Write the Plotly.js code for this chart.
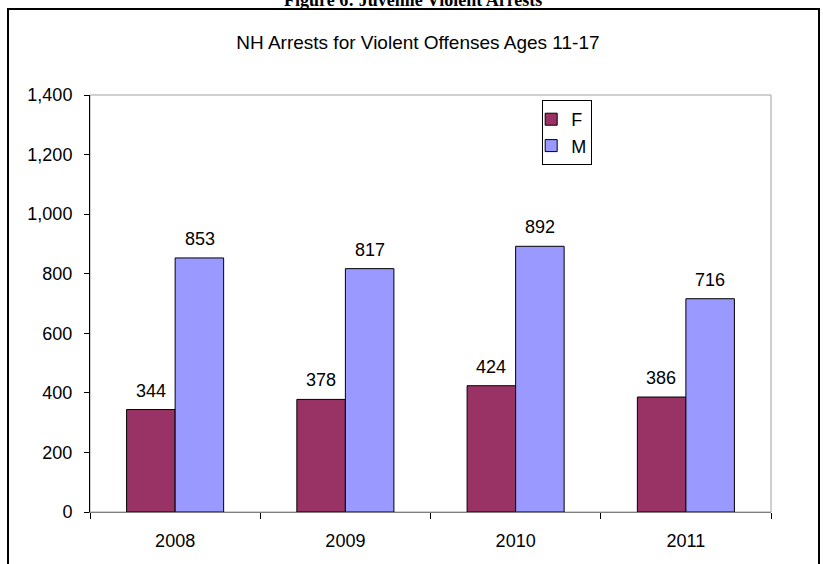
<!DOCTYPE html>
<html>
<head>
<meta charset="utf-8">
<script src="https://cdn.plot.ly/plotly-3.0.1.min.js"></script>
<style>
html,body{margin:0;padding:0;background:#fff;}
#chart{width:823px;height:564px;}
</style>
</head>
<body>
<div id="chart"></div>
<script>
const years = ['2008', '2009', '2010', '2011'];
const femaleArrests = [344, 378, 424, 386];
const maleArrests = [853, 817, 892, 716];
const yTickVals = [0, 200, 400, 600, 800, 1000, 1200, 1400];

const fnt = 'Arial, "Liberation Sans", sans-serif';

const traces = [
  {type: 'bar', name: 'F', x: years, y: femaleArrests,
   marker: {color: '#993366', line: {color: '#000000', width: 1}}, hoverinfo: 'none'},
  {type: 'bar', name: 'M', x: years, y: maleArrests,
   marker: {color: '#9999FF', line: {color: '#000000', width: 1}}, hoverinfo: 'none'}
];

const annotations = [];
years.forEach((yr, i) => {
  annotations.push({x: i, y: femaleArrests[i], text: String(femaleArrests[i]), xref: 'x', yref: 'y',
    showarrow: false, xshift: -24.5, yshift: 7, yanchor: 'bottom', font: {family: fnt, size: 18, color: '#000'}});
  annotations.push({x: i, y: maleArrests[i], text: String(maleArrests[i]), xref: 'x', yref: 'y',
    showarrow: false, xshift: 24.5, yshift: 7, yanchor: 'bottom', font: {family: fnt, size: 18, color: '#000'}});
});
annotations.push({text: '<b>Figure 6: Juvenile Violent Arrests</b>', xref: 'paper', yref: 'paper',
  x: 0.475, y: 1.2062, yanchor: 'middle', yshift: 9, showarrow: false,
  font: {family: '"Liberation Serif", "Times New Roman", serif', size: 18, color: '#000'}});

const layout = {
  width: 823, height: 564,
  margin: {l: 90, r: 52, t: 95, b: 52},
  paper_bgcolor: '#ffffff', plot_bgcolor: '#ffffff',
  title: {text: 'NH Arrests for Violent Offenses Ages 11-17', x: 0.4815, xref: 'paper', xanchor: 'center', y: 0.9255, yanchor: 'middle',
    font: {family: fnt, size: 19, color: '#000'}},
  barmode: 'group', bargap: 0.43, bargroupgap: 0,
  showlegend: true,
  legend: {x: 0.664, y: 0.988, xanchor: 'left', yanchor: 'top', bgcolor: '#fff', bordercolor: '#000', borderwidth: 1,
    font: {family: fnt, size: 18, color: '#000'}, tracegroupgap: 0, itemwidth: 30, indentation: -12},
  xaxis: {type: 'category', range: [-0.5, 3.5], showline: true, linecolor: '#808080', linewidth: 1, ticks: 'outside', tickson: 'boundaries',
    ticklen: 6, tickcolor: '#000', showgrid: false, zeroline: false, ticklabelstandoff: 12,
    tickfont: {family: fnt, size: 18, color: '#000'}, fixedrange: true},
  yaxis: {range: [0, 1400], tickvals: yTickVals, ticktext: yTickVals.map(v => v.toLocaleString('en-US')),
    showline: true, linecolor: '#000', linewidth: 1, ticks: 'outside', ticklen: 5, tickcolor: '#000',
    showgrid: false, zeroline: false, ticklabelstandoff: 8, tickfont: {family: fnt, size: 18, color: '#000'}, fixedrange: true},
  shapes: [
    {type: 'rect', xref: 'paper', yref: 'paper', x0: 0, x1: 1, y0: 0, y1: 1, line: {color: '#A0A0A0', width: 1}, layer: 'below'},
    {type: 'rect', xref: 'paper', yref: 'paper', x0: -0.1204, x1: 1.0705, y0: -0.3, y1: 1.2062, line: {color: '#000', width: 2}}
  ],
  annotations: annotations
};

Plotly.newPlot('chart', traces, layout, {displayModeBar: false, staticPlot: true});
</script>
</body>
</html>
